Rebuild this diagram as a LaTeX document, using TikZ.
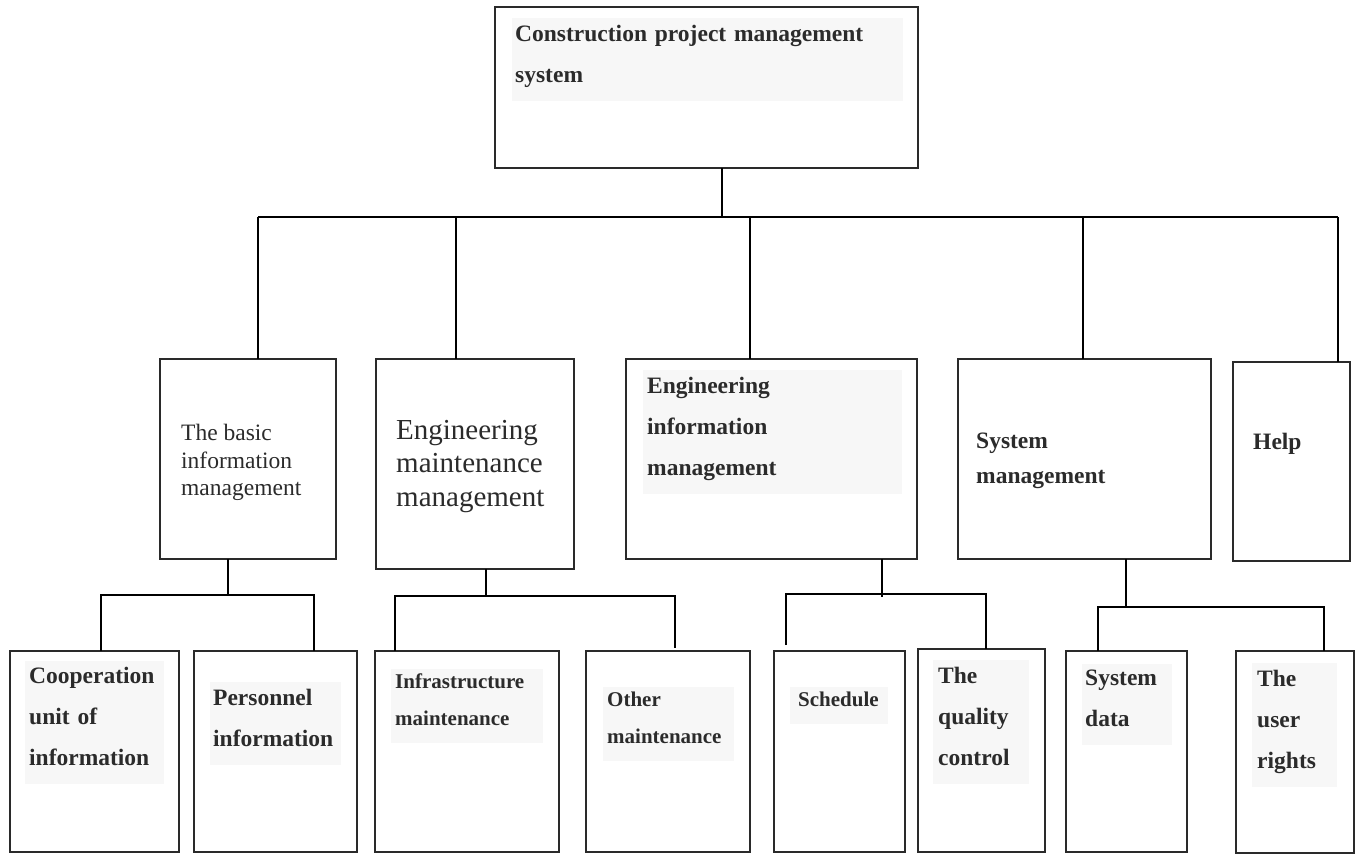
\documentclass[tikz,border=0pt]{standalone}
\usepackage{fontspec}
\setmainfont{Liberation Serif}
\usetikzlibrary{positioning}

\definecolor{ink}{HTML}{2B2B2B}
\definecolor{shade}{HTML}{F7F7F7}
\definecolor{frame}{HTML}{2A2A2A}
\newcommand{\tailstrut}{\rule[-12pt]{0pt}{12pt}}

\begin{document}
\begin{tikzpicture}[
        x=1pt, y=-1pt,
        % Boxes of the chart
        unitbox/.style={
                draw=frame,
                line width=1.3pt,
                outer sep=0pt,
                inner sep=0pt,
                anchor=north west
            },
        % Bold labels on a light background
        boldlabel/.style={
                fill=shade,
                text=ink,
                anchor=north west,
                align=left,
                inner xsep=4pt,
                inner ysep=6.5pt,
                font=\bfseries\fontsize{23.5}{41}\selectfont
            },
        smalllabel/.style={
                boldlabel,
                inner ysep=5pt,
                font=\bfseries\fontsize{21}{37}\selectfont
            },
        % Labels without background
        plainlabel/.style={
                text=ink,
                anchor=north west,
                align=left,
                inner sep=0pt
            },
        % Connectors
        link/.style={
                line width=1.6pt,
                color=black
            }
    ]

    \useasboundingbox[fill=white] (0,0) rectangle (1356,854);

    % Top level
    \node[unitbox, minimum width=423pt, minimum height=161pt] (root) at (495,7) {};
    \node[boldlabel, inner xsep=3pt, text width=385pt, below right=11pt and 17pt of root.north west] (roottext) {Construction project management\\system\tailstrut};

    % Second level
    \node[unitbox, minimum width=176pt, minimum height=200pt] (basic) at (160,359) {};
    \node[unitbox, minimum width=198pt, minimum height=210pt] (engmaint) at (376,359) {};
    \node[unitbox, minimum width=291pt, minimum height=200pt] (enginfo) at (626,359) {};
    \node[unitbox, minimum width=253pt, minimum height=200pt] (sysmgmt) at (958,359) {};
    \node[unitbox, minimum width=117pt, minimum height=199pt] (help) at (1233,362) {};

    \node[plainlabel, font=\fontsize{23.5}{27.5}\selectfont, below right=65pt and 21pt of basic.north west] (basictext) {The basic\\information\\management};
    \node[plainlabel, font=\fontsize{29}{33.5}\selectfont, below right=61pt and 20pt of engmaint.north west] (engmainttext) {Engineering\\maintenance\\management};
    \node[boldlabel, text width=251pt, below right=11pt and 17pt of enginfo.north west] (enginfotext) {Engineering\\information\\management\tailstrut};
    \node[plainlabel, font=\bfseries\fontsize{23.5}{35}\selectfont, below right=74pt and 18pt of sysmgmt.north west] (sysmgmttext) {System\\management};
    \node[plainlabel, font=\bfseries\fontsize{23.5}{35}\selectfont, below right=71pt and 20pt of help.north west] (helptext) {Help};

    % Third level
    \node[unitbox, minimum width=169pt, minimum height=201pt] (coop) at (10,651) {};
    \node[unitbox, minimum width=163pt, minimum height=201pt] (pers) at (194,651) {};
    \node[unitbox, minimum width=184pt, minimum height=201pt] (infra) at (375,651) {};
    \node[unitbox, minimum width=164pt, minimum height=201pt] (other) at (586,651) {};
    \node[unitbox, minimum width=131pt, minimum height=201pt] (sched) at (774,651) {};
    \node[unitbox, minimum width=127pt, minimum height=203pt] (quality) at (918,649) {};
    \node[unitbox, minimum width=121pt, minimum height=201pt] (sysdata) at (1066,651) {};
    \node[unitbox, minimum width=118pt, minimum height=202pt] (rights) at (1236,651) {};

    \node[boldlabel, text width=131pt, inner ysep=6pt, below right=10pt and 15pt of coop.north west] (cooptext) {Cooperation\\unit of\\information\tailstrut};
    \node[boldlabel, inner xsep=3pt, text width=125pt, below right=31pt and 16pt of pers.north west] (perstext) {Personnel\\information\tailstrut};
    \node[smalllabel, text width=144pt, below right=18pt and 16pt of infra.north west] (infratext) {Infrastructure\\maintenance\tailstrut};
    \node[smalllabel, text width=123pt, below right=36pt and 17pt of other.north west] (othertext) {Other\\maintenance\tailstrut};
    \node[smalllabel, inner xsep=8pt, text width=82pt, below right=36pt and 16pt of sched.north west] (schedtext) {Schedule\tailstrut};
    \node[boldlabel, inner xsep=5pt, text width=86pt, below right=11pt and 15pt of quality.north west] (qualitytext) {The\\quality\\control\tailstrut};
    \node[boldlabel, inner xsep=3pt, inner ysep=6pt, text width=84pt, below right=13pt and 16pt of sysdata.north west] (sysdatatext) {System\\data\tailstrut};
    \node[boldlabel, inner xsep=5pt, text width=75pt, below right=12pt and 16pt of rights.north west] (rightstext) {The\\user\\rights\tailstrut};

    % Main tree
    \draw[link] (root.south -| 722,0) -- (722,217);
    \draw[link] (258,217) -- (1338,217);
    \foreach \x/\sub in {258/basic, 456/engmaint, 750/enginfo, 1083/sysmgmt, 1338/help}
        \draw[link] (\x,217) -- (\sub.north -| \x,0);

    % Basic information
    \draw[link] (basic.south -| 228,0) -- (228,595);
    \draw[link] (coop.north -| 101,0) -- (101,595) -- (314,595) -- (pers.north -| 314,0);

    % Engineering maintenance
    \draw[link] (engmaint.south -| 486,0) -- (486,596);
    \draw[link, shorten >=3pt] (infra.north -| 395,0) -- (395,596) -- (675,596) -- (other.north -| 675,0);

    % Engineering information
    \draw[link] (enginfo.south -| 882,0) -- (882,597);
    \draw[link, shorten <=6pt] (sched.north -| 786,0) -- (786,594) -- (986,594) -- (quality.north -| 986,0);

    % System management
    \draw[link] (sysmgmt.south -| 1126,0) -- (1126,607);
    \draw[link] (sysdata.north -| 1098,0) -- (1098,607) -- (1324,607) -- (rights.north -| 1324,0);

\end{tikzpicture}
\end{document}
